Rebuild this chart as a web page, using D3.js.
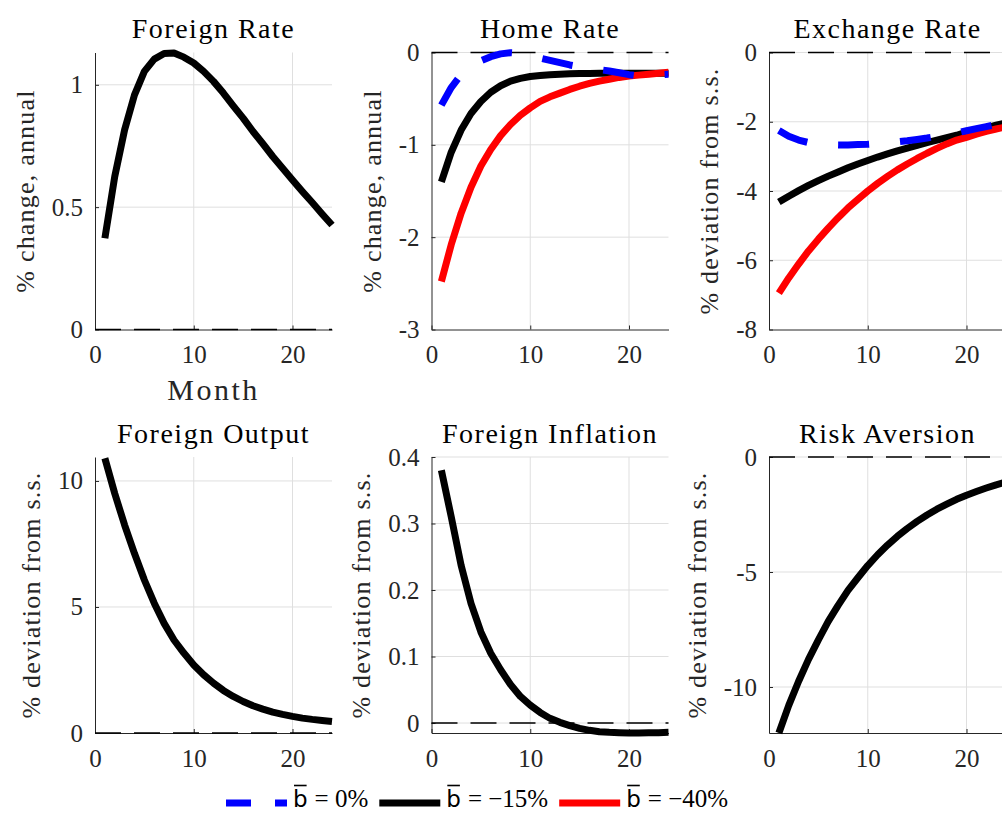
<!DOCTYPE html>
<meta charset="utf-8">
<script src="https://d3js.org/d3.v7.min.js"></script>
<style>
  body { margin: 0; background: #fff; }
</style>
<div id="chart"></div>
<script>

    // months on the x axis
    var months = [1,2,3,4,5,6,7,8,9,10,11,12,13,14,15,16,17,18,19,20,21,22,23,24];
    var xTicks = [0, 10, 20];

    // series (b = 0%, -15%, -40%)
    var foreignRate = [0.373,0.625,0.816,0.959,1.055,1.105,1.128,1.13,1.113,1.089,1.055,1.014,0.966,0.914,0.864,0.809,0.759,0.707,0.659,0.611,0.564,0.519,0.472,0.427];

    var homeRate0  = [-0.57,-0.38,-0.24,-0.15,-0.09,-0.045,-0.015,-0.002,-0.01,-0.03,-0.06,-0.085,-0.11,-0.135,-0.155,-0.17,-0.185,-0.2,-0.22,-0.24,-0.255,-0.25,-0.24,-0.235];
    var homeRate15 = [-1.4,-1.08,-0.84,-0.66,-0.53,-0.43,-0.36,-0.31,-0.28,-0.26,-0.25,-0.24,-0.235,-0.23,-0.228,-0.227,-0.226,-0.225,-0.225,-0.225,-0.225,-0.225,-0.225,-0.225];
    var homeRate40 = [-2.48,-2.08,-1.74,-1.46,-1.23,-1.05,-0.9,-0.78,-0.68,-0.6,-0.53,-0.48,-0.44,-0.4,-0.365,-0.335,-0.31,-0.29,-0.27,-0.255,-0.245,-0.235,-0.225,-0.215];

    var exchRate0  = [-2.25,-2.42,-2.53,-2.6,-2.64,-2.66,-2.67,-2.67,-2.66,-2.65,-2.63,-2.61,-2.58,-2.55,-2.51,-2.47,-2.42,-2.37,-2.32,-2.26,-2.2,-2.14,-2.08,-2.02];
    var exchRate15 = [-4.32,-4.15,-3.99,-3.84,-3.7,-3.57,-3.45,-3.33,-3.22,-3.12,-3.02,-2.93,-2.84,-2.76,-2.68,-2.6,-2.53,-2.46,-2.39,-2.3,-2.24,-2.18,-2.1,-2.03];
    var exchRate40 = [-6.95,-6.51,-6.11,-5.73,-5.39,-5.07,-4.77,-4.49,-4.24,-4.0,-3.78,-3.58,-3.39,-3.22,-3.06,-2.91,-2.77,-2.64,-2.53,-2.45,-2.36,-2.28,-2.21,-2.15];

    var foreignOutput = [10.9,9.5,8.25,7.12,6.07,5.15,4.35,3.69,3.17,2.7,2.31,1.98,1.69,1.45,1.25,1.08,0.95,0.83,0.74,0.66,0.59,0.54,0.5,0.46];
    var foreignInflation = [0.38,0.31,0.237,0.18,0.137,0.105,0.08,0.058,0.04,0.027,0.016,0.007,0.001,-0.004,-0.008,-0.011,-0.013,-0.014,-0.0145,-0.015,-0.015,-0.0148,-0.0145,-0.014];
    var riskAversion = [-12.0,-10.8,-9.75,-8.8,-7.95,-7.15,-6.45,-5.8,-5.25,-4.72,-4.25,-3.83,-3.45,-3.11,-2.8,-2.52,-2.27,-2.05,-1.84,-1.66,-1.5,-1.35,-1.21,-1.09];

    var legendValues = ["0%", "\u221215%", "\u221240%"];

    // colours of the three calibrations
    var cBlue = "#0000ff", cBlack = "#000000", cRed = "#ff0000";

    // panel layout
    var colX = [95, 431.5, 769],
        rowY = [52.5, 457],
        axW = 237,
        axH = [277, 276];

    var panels = [
        {row: 0, col: 0, title: "Foreign Rate", ylabel: "% change, annual", ylim: [0, 1.132], yticks: [0, 0.5, 1],
         series: [{v: foreignRate, c: cBlack}], xlabel: "Month"},
        {row: 0, col: 1, title: "Home Rate", ylabel: "% change, annual", ylim: [-3, 0], yticks: [-3, -2, -1, 0],
         series: [{v: homeRate15, c: cBlack}, {v: homeRate40, c: cRed}, {v: homeRate0, c: cBlue, dash: true}]},
        {row: 0, col: 2, title: "Exchange Rate", ylabel: "% deviation from s.s.", ylim: [-8, 0], yticks: [-8, -6, -4, -2, 0],
         series: [{v: exchRate15, c: cBlack}, {v: exchRate40, c: cRed}, {v: exchRate0, c: cBlue, dash: true}]},
        {row: 1, col: 0, title: "Foreign Output", ylabel: "% deviation from s.s.", ylim: [0, 10.95], yticks: [0, 5, 10],
         series: [{v: foreignOutput, c: cBlack}]},
        {row: 1, col: 1, title: "Foreign Inflation", ylabel: "% deviation from s.s.", ylim: [-0.015, 0.4], yticks: [0, 0.1, 0.2, 0.3, 0.4],
         series: [{v: foreignInflation, c: cBlack}]},
        {row: 1, col: 2, title: "Risk Aversion", ylabel: "% deviation from s.s.", ylim: [-12, 0], yticks: [-10, -5, 0],
         series: [{v: riskAversion, c: cBlack}]}
    ];

    var serif = "'Liberation Serif'";
    var fmt = function(d) { return String(d); };

    function draw() {
        d3.select("#chart").selectAll("*").remove();

        var svg = d3.select("#chart")
            .append("svg")
            .attr("width", 1002)
            .attr("height", 813)
            .style("font-family", serif);

        panels.forEach(function(p) {
            var h = axH[p.row];
            var g = svg.append("g")
                .attr("transform", "translate(" + colX[p.col] + "," + rowY[p.row] + ")");

            var x = d3.scaleLinear().domain([0, 24]).range([0, axW]);
            var y = d3.scaleLinear().domain(p.ylim).range([h, 0]);

            // grid
            g.selectAll(".gx").data(xTicks.filter(function(t) { return t > 0; }))
                .enter().append("line")
                .attr("x1", function(d) { return x(d); }).attr("x2", function(d) { return x(d); })
                .attr("y1", 0).attr("y2", h)
                .attr("stroke", "#dfdfdf").attr("stroke-width", 1);
            g.selectAll(".gy").data(p.yticks.filter(function(t) { return t > p.ylim[0]; }))
                .enter().append("line")
                .attr("x1", 0).attr("x2", axW)
                .attr("y1", function(d) { return y(d); }).attr("y2", function(d) { return y(d); })
                .attr("stroke", "#dfdfdf").attr("stroke-width", 1);

            // axes
            var ya = g.append("g")
                .call(d3.axisLeft(y).tickValues(p.yticks).tickFormat(fmt)
                      .tickSizeInner(-4).tickSizeOuter(0).tickPadding(12));
            var xa = g.append("g")
                .attr("transform", "translate(0," + h + ")")
                .call(d3.axisBottom(x).tickValues(xTicks).tickFormat(fmt)
                      .tickSizeInner(-4).tickSizeOuter(0).tickPadding(16));
            [ya, xa].forEach(function(a) {
                a.attr("font-family", null).attr("font-size", 25);
                a.selectAll("text").style("font-family", serif).attr("fill", "#262626");
                a.selectAll("path, line").attr("stroke", "#262626");
            });

            // zero reference line
            g.append("line")
                .attr("x1", x(0)).attr("x2", x(24))
                .attr("y1", y(0)).attr("y2", y(0))
                .attr("stroke", "#000").attr("stroke-width", 1.5)
                .attr("stroke-dasharray", "26,13");

            // data lines
            var line = d3.line()
                .x(function(d, i) { return x(months[i]); })
                .y(function(d) { return y(d); });
            p.series.forEach(function(s) {
                g.append("path")
                    .datum(s.v)
                    .attr("d", line)
                    .attr("fill", "none")
                    .attr("stroke", s.c)
                    .attr("stroke-width", 7)
                    .attr("stroke-linejoin", "round")
                    .attr("stroke-dasharray", s.dash ? "31,31" : null);
            });

            // title
            g.append("text")
                .attr("x", axW / 2)
                .attr("y", -14.5)
                .attr("text-anchor", "middle")
                .style("font-family", serif)
                .attr("font-size", 28)
                .attr("letter-spacing", 1.5)
                .attr("fill", "#000")
                .text(p.title);

            // y label, placed outside the widest tick label
            var maxW = d3.max(ya.selectAll("text").nodes(), function(n) { return n.getComputedTextLength(); });
            g.append("text")
                .attr("transform", "translate(" + (-(maxW + 12 + 18)) + "," + (h / 2) + ") rotate(-90)")
                .attr("text-anchor", "middle")
                .style("font-family", serif)
                .attr("font-size", 26)
                .attr("letter-spacing", 1.2)
                .attr("fill", "#262626")
                .text(p.ylabel);

            if (p.xlabel) {
                g.append("text")
                    .attr("x", axW / 2)
                    .attr("y", h + 70)
                    .attr("text-anchor", "middle")
                    .style("font-family", serif)
                    .attr("font-size", 30)
                    .attr("letter-spacing", 2.5)
                    .attr("fill", "#262626")
                    .text(p.xlabel);
            }
        });

        // legend along the bottom
        var legend = svg.append("g");
        var legendColors = [cBlue, cBlack, cRed];
        var lx = 226, ly = 803;
        legendValues.forEach(function(v, i) {
            legend.append("line")
                .attr("x1", lx).attr("x2", lx + 61)
                .attr("y1", ly).attr("y2", ly)
                .attr("stroke", legendColors[i])
                .attr("stroke-width", 7)
                .attr("stroke-dasharray", i === 0 ? "25,24" : null);
            var tx = lx + 67;
            var b = legend.append("text")
                .attr("x", tx)
                .attr("y", ly + 4)
                .style("font-family", "'DejaVu Sans'")
                .attr("font-size", 23)
                .attr("fill", "#000")
                .text("b");
            var bw = b.node().getComputedTextLength();
            // bar over the b
            legend.append("line")
                .attr("x1", tx + 1).attr("x2", tx + bw - 1)
                .attr("y1", ly - 17.5).attr("y2", ly - 17.5)
                .attr("stroke", "#000").attr("stroke-width", 1.6);
            var t = legend.append("text")
                .attr("x", tx + bw + 7)
                .attr("y", ly + 4)
                .style("font-family", serif)
                .attr("font-size", 25)
                .attr("fill", "#000")
                .text("= " + v);
            lx = tx + bw + 7 + t.node().getComputedTextLength() + 11;
        });
    }

    draw();

    // redraw once the serif face is ready, so measured widths use it
    if (document.fonts && document.fonts.load) {
        Promise.all([
            document.fonts.load("25px 'Liberation Serif'"),
            document.fonts.load("23px 'DejaVu Sans'")
        ]).then(draw, function() {});
    }

</script>
